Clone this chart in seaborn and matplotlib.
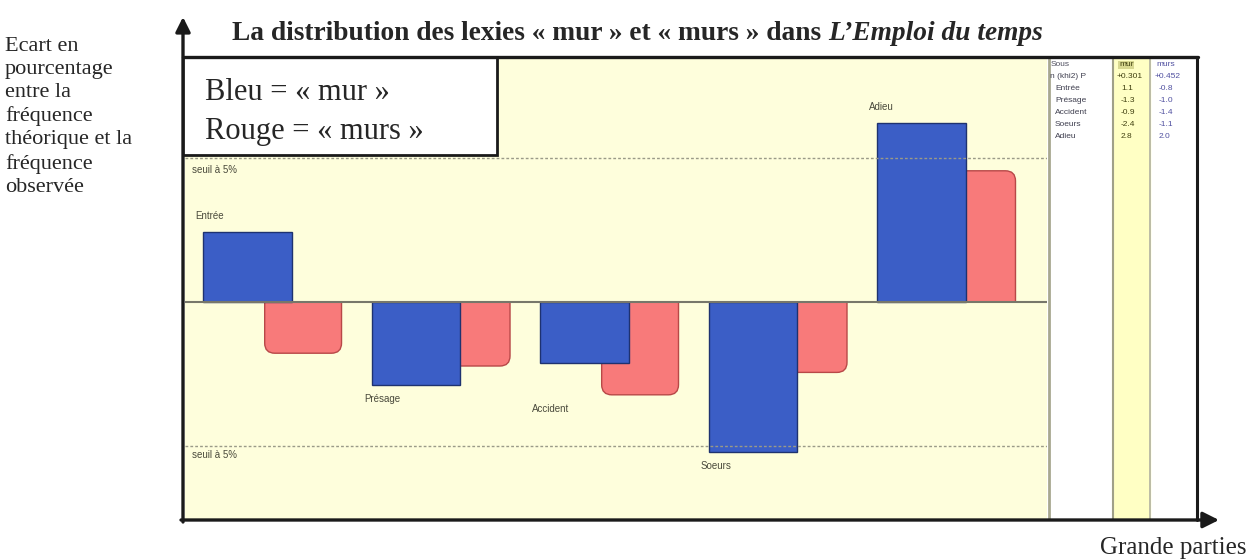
import matplotlib
matplotlib.use("Agg")
import matplotlib.pyplot as plt
import seaborn as sns
import numpy as np
from matplotlib.patches import FancyBboxPatch, Rectangle, FancyArrowPatch
from matplotlib.lines import Line2D

# Données
parties = ["Entrée", "Présage", "Accident", "Soeurs", "Adieu"]
ecart_mur = [1.1, -1.3, -0.95, -2.35, 2.8]     # bleu
ecart_murs = [-0.8, -1.0, -1.45, -1.1, 2.05]   # rouge
seuil = 2.25
entete = ["Sous", "mur", "murs"]
ligne_khi = ["n (khi2) P", "+0.301", "+0.452"]

sns.set_theme(style="white")
plt.rcParams["font.family"] = ["Liberation Serif", "DejaVu Serif"]

W, H = 1250, 560
fig = plt.figure(figsize=(12.5, 5.6), dpi=100)


def box(x0, y0, x1, y1):
    # boîte en pixels (origine en haut à gauche) -> fraction de figure
    return [x0 / W, 1 - y1 / H, (x1 - x0) / W, (y1 - y0) / H]


def fx(x):
    return x / W


def fy(y):
    return 1 - y / H


# --- zone du graphique ---
ax = fig.add_axes(box(185, 57, 1047, 520))
ax.set_facecolor("#fefedc")
pos = np.arange(len(parties))

sns.barplot(x=pos + 0.33, y=ecart_murs, native_scale=True, width=0.456,
            color="#f87a7a", saturation=1, errorbar=None, ax=ax)
rouges = list(ax.patches)

# barres rouges à coins arrondis
r = 0.06
asp = 168.5 / 64
for p in rouges:
    x, w = p.get_x(), p.get_width()
    y0, h = p.get_y(), p.get_height()
    lo, hi = min(y0, y0 + h), max(y0, y0 + h)
    ext = r * asp
    p.remove()
    if hi <= 0:
        b_lo, b_hi = lo, hi + ext
        clip = Rectangle((x - 0.05, lo - 1), w + 0.1, hi - lo + 1, transform=ax.transData)
    else:
        b_lo, b_hi = lo - ext, hi
        clip = Rectangle((x - 0.05, lo), w + 0.1, hi - lo + 1, transform=ax.transData)
    fb = FancyBboxPatch((x, b_lo), w, b_hi - b_lo,
                        boxstyle=f"round,pad=0,rounding_size={r}",
                        mutation_aspect=asp, fc="#f87a7a", ec="#b84848", lw=1)
    ax.add_patch(fb)
    fb.set_clip_path(clip)

sns.barplot(x=pos, y=ecart_mur, native_scale=True, width=0.527,
            color="#3b5ec6", saturation=1, errorbar=None,
            edgecolor="#1e3270", linewidth=1, ax=ax)

ax.axhline(0, color="#77776a", lw=1.5, zorder=3)
for s in (seuil, -seuil):
    ax.axhline(s, color="#9a9a88", lw=1, ls=(0, (2, 1.5)), zorder=3)

petit = dict(family=["Liberation Sans", "DejaVu Sans"], fontsize=7, color="#4a4a3c")
ax.text(-0.33, seuil - 0.19, "seuil à 5%", va="center", **petit)
ax.text(-0.33, -seuil - 0.14, "seuil à 5%", va="center", **petit)

for i, nom in enumerate(parties):
    if ecart_mur[i] > 0:
        yl = ecart_mur[i] + 0.25
    else:
        yl = min(ecart_mur[i], ecart_murs[i]) - 0.22
    ax.text(i - 0.31, yl, nom, va="center", ha="left", **petit)

ax.set_xlim(-0.371, 4.745)
ax.set_ylim(-3.406, 3.828)
ax.set_xticks([])
ax.set_yticks([])
ax.set_xlabel("")
ax.set_ylabel("")
for sp in ax.spines.values():
    sp.set_visible(False)

# --- tableau de droite ---
tab = fig.add_axes(box(1047, 57, 1197, 520))
tab.set_xlim(1047, 1197)
tab.set_ylim(520, 57)
tab.axis("off")
tab.axvspan(1113, 1150, color="#ffffc4")
tab.axvline(1048.5, color="#a8a890", lw=2)
tab.axvline(1113, color="#a0a088", lw=1.5)
tab.axvline(1150, color="#b0b0a0", lw=1.2)

tp = dict(family=["Liberation Sans", "DejaVu Sans"], fontsize=6, va="center")
rows_y = [65, 77, 89, 100, 112, 125, 137]
tab.text(1051, rows_y[0], entete[0], color="#505060", **tp)
tab.text(1119, rows_y[0], entete[1], color="#404010",
         bbox=dict(fc="#d8d890", ec="none", pad=0.6), **tp)
tab.text(1156, rows_y[0], entete[2], color="#5050a0", **tp)
tab.text(1050, rows_y[1], ligne_khi[0], color="#404050", **tp)
tab.text(1117, rows_y[1], ligne_khi[1], color="#404010", **tp)
tab.text(1155, rows_y[1], ligne_khi[2], color="#5050a0", **tp)
for i, nom in enumerate(parties):
    y = rows_y[i + 2]
    tab.text(1055, y, nom, color="#404050", **tp)
    tab.text(1121, y, f"{ecart_mur[i]:.1f}", color="#404010", **tp)
    tab.text(1159, y, f"{ecart_murs[i]:.1f}", color="#5050a0", **tp)

# --- cadre et flèches ---
fig.add_artist(Line2D([fx(183), fx(1198)], [fy(57), fy(57)], color="k", lw=2.4,
                      transform=fig.transFigure))
fig.add_artist(Line2D([fx(1197), fx(1197)], [fy(57), fy(520)], color="k", lw=2.2,
                      transform=fig.transFigure))
fig.add_artist(FancyArrowPatch((fx(181), fy(520)), (fx(1219), fy(520)),
                               transform=fig.transFigure, arrowstyle="-|>",
                               mutation_scale=24, lw=2.4, color="k",
                               shrinkA=0, shrinkB=0))
fig.add_artist(FancyArrowPatch((fx(183), fy(522)), (fx(183), fy(17)),
                               transform=fig.transFigure, arrowstyle="-|>",
                               mutation_scale=22, lw=2.4, color="k",
                               shrinkA=0, shrinkB=0))

# --- légende ---
fig.add_artist(Rectangle((fx(183), fy(155)), fx(497) - fx(183), fy(57) - fy(155),
                         transform=fig.transFigure, fc="white", ec="k", lw=2))
fig.text(fx(205), fy(92), "Bleu = « mur »", fontsize=22, va="center")
fig.text(fx(205), fy(131), "Rouge = « murs »", fontsize=22, va="center")

# --- textes ---
fig.text(fx(5), fy(37),
         "Ecart en\npourcentage\nentre la\nfréquence\nthéorique et la\nfréquence\nobservée",
         fontsize=16, va="top", ha="left", linespacing=1.29)
fig.text(fx(1100), fy(548), "Grande parties", fontsize=18, va="center", ha="left")

t1 = fig.text(fx(232), fy(33), "La distribution des lexies « mur » et « murs » dans ",
              fontsize=19.7, fontweight="bold", va="center", ha="left")
fig.canvas.draw()
bb = t1.get_window_extent()
fig.text(bb.x1 / W, fy(33), "L’Emploi du temps", fontsize=19.7, fontweight="bold",
         fontstyle="italic", va="center", ha="left")

fig.savefig("out.png", dpi=100)
